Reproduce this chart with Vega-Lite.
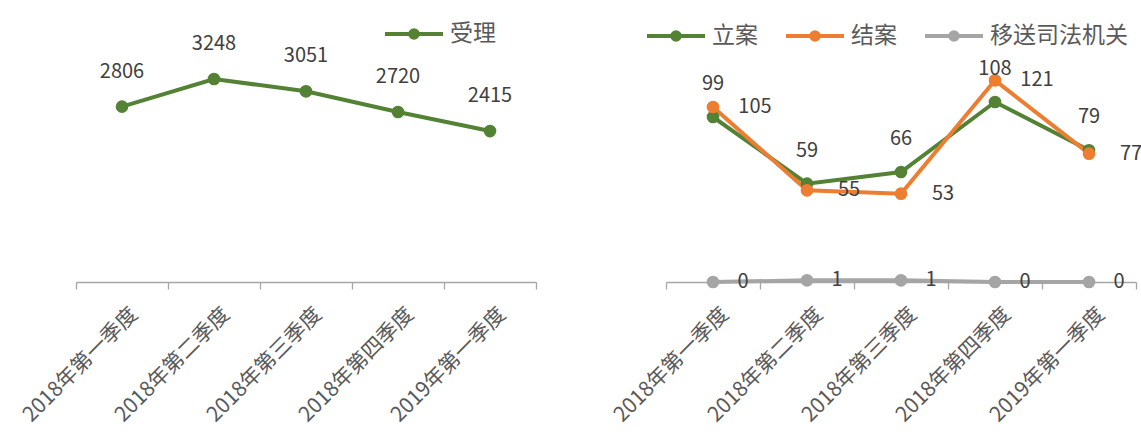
{
  "$schema": "https://vega.github.io/schema/vega-lite/v6.json",
  "padding": {"left": 19, "top": 3, "right": 5, "bottom": 0},
  "background": "white",
  "bounds": "flush",
  "spacing": 130,
  "config": {
    "view": {"stroke": null},
    "font": "Noto Sans CJK SC",
    "axis": {
      "title": null, "grid": false,
      "labelAngle": -45, "labelAlign": "right", "labelBaseline": "middle",
      "labelFontSize": 21, "labelFont": "Noto Sans CJK SC", "labelColor": "#595959",
      "domainColor": "#A6A6A6", "tickColor": "#A6A6A6", "tickSize": 7, "domainWidth": 1.3, "tickWidth": 1.3,
      "tickBand": "extent", "labelPadding": 22, "labelOffset": 12, "labelOverlap": false, "labelLimit": 400
    },
    "legend": {
      "orient": "none", "direction": "horizontal", "title": null,
      "labelFontSize": 23, "labelFont": "Noto Sans CJK SC", "labelColor": "#595959",
      "symbolType": "M-1,0H1M-0.13,0A0.13,0.13,0,1,1,0.13,0A0.13,0.13,0,1,1,-0.13,0Z",
      "symbolSize": 3364, "symbolStrokeWidth": 4, "labelOffset": 5, "columnPadding": 20
    }
  },
  "datasets": {
    "left": [
      {"q": "2018年第一季度", "s": "受理", "v": 2806},
      {"q": "2018年第二季度", "s": "受理", "v": 3248},
      {"q": "2018年第三季度", "s": "受理", "v": 3051},
      {"q": "2018年第四季度", "s": "受理", "v": 2720},
      {"q": "2019年第一季度", "s": "受理", "v": 2415}
    ],
    "right": [
      {"q": "2018年第一季度", "s": "立案", "v": 99},
      {"q": "2018年第二季度", "s": "立案", "v": 59},
      {"q": "2018年第三季度", "s": "立案", "v": 66},
      {"q": "2018年第四季度", "s": "立案", "v": 108},
      {"q": "2019年第一季度", "s": "立案", "v": 79},
      {"q": "2018年第一季度", "s": "结案", "v": 105},
      {"q": "2018年第二季度", "s": "结案", "v": 55},
      {"q": "2018年第三季度", "s": "结案", "v": 53},
      {"q": "2018年第四季度", "s": "结案", "v": 121},
      {"q": "2019年第一季度", "s": "结案", "v": 77},
      {"q": "2018年第一季度", "s": "移送司法机关", "v": 0},
      {"q": "2018年第二季度", "s": "移送司法机关", "v": 1},
      {"q": "2018年第三季度", "s": "移送司法机关", "v": 1},
      {"q": "2018年第四季度", "s": "移送司法机关", "v": 0},
      {"q": "2019年第一季度", "s": "移送司法机关", "v": 0}
    ]
  },
  "resolve": {"scale": {"x": "independent", "y": "independent", "color": "independent"}, "legend": {"color": "independent"}},
  "hconcat": [
    {
      "width": 460, "height": 250,
      "data": {"name": "left"},
      "encoding": {
        "x": {"field": "q", "type": "nominal", "sort": null, "scale": {"type": "band", "paddingInner": 0, "paddingOuter": 0}},
        "y": {"field": "v", "type": "quantitative", "scale": {"domain": [0, 4000]}, "axis": null}
      },
      "layer": [
        {
          "mark": {"type": "line", "strokeWidth": 4, "point": {"filled": true, "size": 160}},
          "encoding": {
            "color": {"field": "s", "type": "nominal", "scale": {"domain": ["受理"], "range": ["#548235"]},
              "legend": {"legendX": 307, "legendY": -29,
                "encode": {"symbols": {"update": {"fill": {"value": "#548235"}}}}}}
          }
        },
        {
          "mark": {"type": "text", "dy": -35, "fontSize": 20, "color": "#404040"},
          "encoding": {"text": {"field": "v", "type": "quantitative"}}
        }
      ]
    },
    {
      "width": 470, "height": 250,
      "data": {"name": "right"},
      "encoding": {
        "x": {"field": "q", "type": "nominal", "sort": null, "scale": {"type": "band", "paddingInner": 0, "paddingOuter": 0}},
        "y": {"field": "v", "type": "quantitative", "scale": {"domain": [0, 150]}, "axis": null}
      },
      "layer": [
        {
          "mark": {"type": "line", "strokeWidth": 4, "point": {"filled": true, "size": 160}},
          "encoding": {
            "color": {"field": "s", "type": "nominal", "sort": null,
              "scale": {"domain": ["立案", "结案", "移送司法机关"], "range": ["#548235", "#ED7D31", "#A5A5A5"]},
              "legend": {"legendX": -21, "legendY": -27,
                "encode": {"symbols": {"update": {"fill": {"signal": "datum.value === '立案' ? '#548235' : datum.value === '结案' ? '#ED7D31' : '#A5A5A5'"}}}}}}
          }
        },
        {
          "transform": [{"filter": "datum.s === '立案'"}],
          "mark": {"type": "text", "dy": -33, "fontSize": 20, "color": "#404040"},
          "encoding": {"text": {"field": "v", "type": "quantitative"}}
        },
        {
          "transform": [{"filter": "datum.s === '结案'"}],
          "mark": {"type": "text", "dx": 42, "fontSize": 20, "color": "#404040"},
          "encoding": {"text": {"field": "v", "type": "quantitative"}}
        },
        {
          "transform": [{"filter": "datum.s === '移送司法机关'"}],
          "mark": {"type": "text", "dx": 30, "fontSize": 20, "color": "#404040"},
          "encoding": {"text": {"field": "v", "type": "quantitative"}}
        }
      ]
    }
  ]
}
